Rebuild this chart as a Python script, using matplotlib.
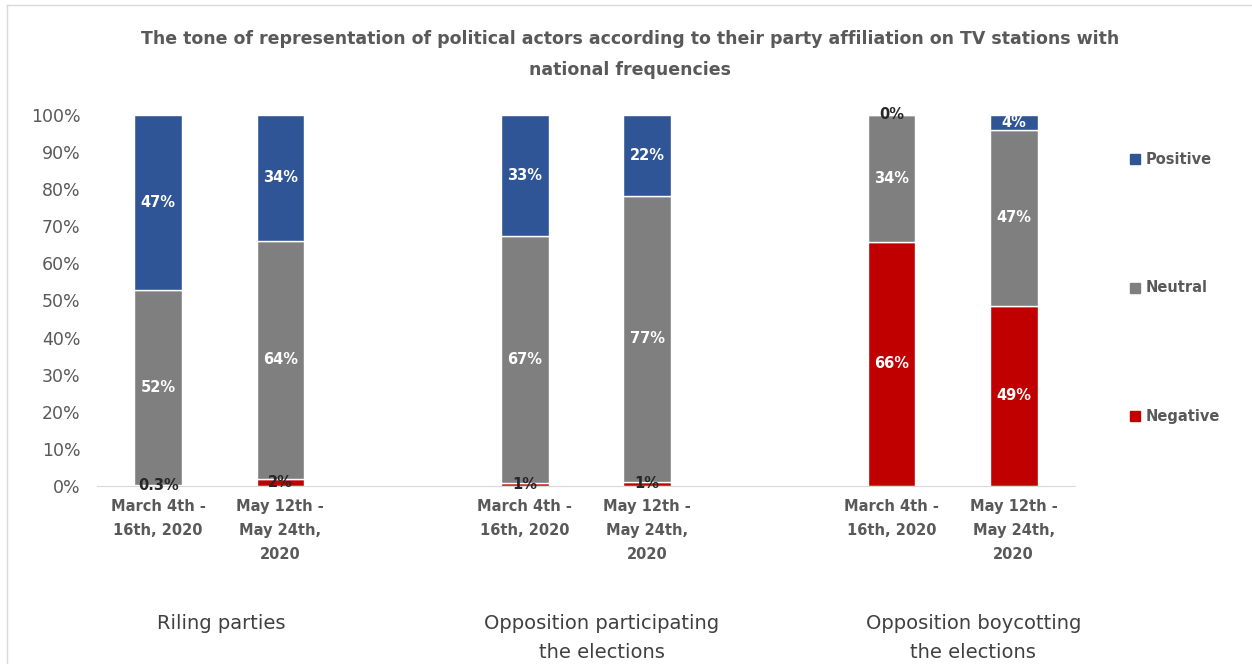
import numpy as np
import matplotlib.pyplot as plt
from matplotlib.lines import Line2D

plt.rcParams['font.family'] = ['DejaVu Sans']

# category slots on the x axis, empty slots separate the three groups
positions = [0, 1, 3, 4, 6, 7]
periods = ['March 4th -\n16th, 2020', 'May 12th -\nMay 24th,\n2020'] * 3
groups = ['Riling parties', 'Opposition participating\nthe elections', 'Opposition boycotting\nthe elections']

negative = [0.3, 2.0, 0.8, 1.2, 65.8, 48.6]
neutral = [52.5, 64.0, 66.6, 77.0, 34.2, 47.4]
positive = [47.2, 34.0, 32.6, 21.8, 0.0, 4.0]

series = [('Negative', negative, '#C00000'),
          ('Neutral', neutral, '#7F7F7F'),
          ('Positive', positive, '#2F5597')]


def fmt(v):
    if 0 < v < 0.5:
        return f'{v:.1f}%'
    return f'{v:.0f}%'


fig = plt.figure(figsize=(12.52, 6.64), dpi=100)
ax = fig.add_axes([0.0775, 0.268, 0.781, 0.559])

bottom = np.zeros(len(positions))
for name, vals, color in series:
    vals = np.array(vals)
    ax.bar(positions, vals, width=0.39, bottom=bottom, color=color,
           edgecolor='white', linewidth=1)
    for x, b, v in zip(positions, bottom, vals):
        small = v < 3
        ax.text(x, b + v / 2, fmt(v), ha='center', va='center',
                fontsize=10.5, fontweight='bold',
                color='#262626' if small else 'white')
    bottom += vals

ax.set_xlim(-0.5, 7.5)
ax.set_ylim(0, 100)
ax.set_yticks(np.arange(0, 101, 10))
ax.set_yticklabels([f'{t}%' for t in range(0, 101, 10)])
ax.tick_params(axis='y', length=0, pad=12, labelsize=12.5, labelcolor='#595959')
ax.set_xticks(positions)
ax.set_xticklabels(periods, fontsize=10.5, fontweight='bold', color='#595959',
                   linespacing=1.75)
ax.tick_params(axis='x', length=0, pad=9.5)
for s in ['top', 'right', 'left']:
    ax.spines[s].set_visible(False)
ax.spines['bottom'].set_color('#D9D9D9')

# group labels under the period labels
for gx, g in zip([0.52, 3.63, 6.67], groups):
    ax.text(gx, -34.5, g, ha='center', va='top', fontsize=14,
            color='#404040', linespacing=1.65)

fig.text(0.503, 0.918,
         'The tone of representation of political actors according to their party affiliation on TV stations with\nnational frequencies',
         ha='center', va='center', fontsize=12.5, fontweight='bold',
         color='#595959', linespacing=1.9)

# legend drawn as separate entries, spread down the right side
for y, (name, _, c) in zip([0.760, 0.567, 0.373], series[::-1]):
    fig.add_artist(Line2D([0.9065], [y], marker='s', markersize=6.5,
                          color=c, linestyle='none'))
    fig.text(0.915, y, name, ha='left', va='center', fontsize=10.5,
             fontweight='bold', color='#595959')

# chart frame
fig.add_artist(Line2D([0.0056, 0.0056], [0, 0.993], color='#D9D9D9', lw=1))
fig.add_artist(Line2D([0.0056, 1], [0.993, 0.993], color='#D9D9D9', lw=1))

fig.savefig('out.png', dpi=100)
